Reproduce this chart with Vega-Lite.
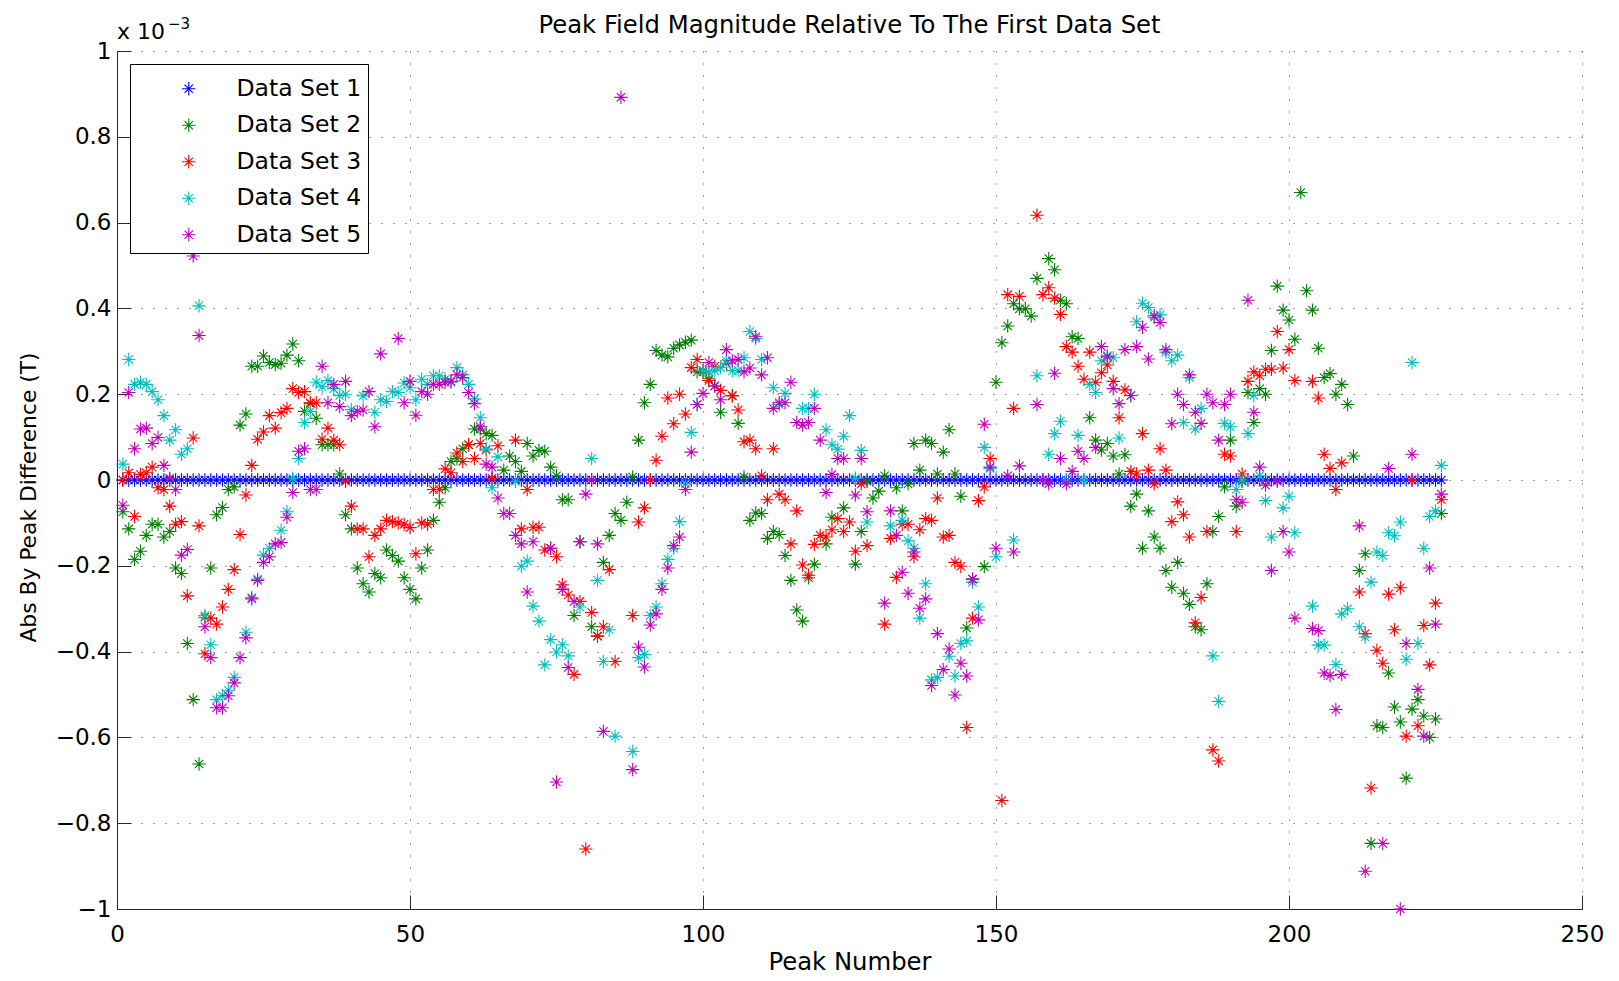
{
  "$schema": "https://vega.github.io/schema/vega-lite/v6.json",
  "width": 1465,
  "height": 858,
  "autosize": {"type": "none"},
  "padding": {"left": 117, "top": 51, "right": 37, "bottom": 72},
  "background": "white",
  "config": {
    "font": "DejaVu Sans",
    "view": {"stroke": null},
    "axis": {
      "grid": true,
      "gridDash": [1, 11],
      "gridColor": "#444444",
      "gridWidth": 1,
      "domainColor": "#262626",
      "domainWidth": 1,
      "tickColor": "#262626",
      "tickSize": -14,
      "tickWidth": 1,
      "labelFont": "DejaVu Sans",
      "labelFontSize": 23,
      "labelColor": "black",
      "titleFont": "DejaVu Sans",
      "titleFontSize": 23.5,
      "titleFontWeight": "normal",
      "titleColor": "black",
      "labelFlush": false,
      "labelOverlap": false
    },
    "legend": {
      "fillColor": "white",
      "strokeColor": "black"
    }
  },
  "title": {
    "text": "Peak Field Magnitude Relative To The First Data Set",
    "font": "DejaVu Sans",
    "fontSize": 24.3,
    "fontWeight": "normal",
    "color": "black",
    "anchor": "middle",
    "frame": "group",
    "baseline": "alphabetic",
    "offset": -5,
    "dy": 35
  },
  "layer": [
    {
      "data": {"values": [
        {"n":1,"a":0,"b":-0.074,"c":0,"d":0.037,"e":-0.059},
        {"n":2,"a":0,"b":-0.114,"c":0.017,"d":0.281,"e":0.204},
        {"n":3,"a":0,"b":-0.185,"c":-0.085,"d":0.223,"e":0.073},
        {"n":4,"a":0,"b":-0.166,"c":0.013,"d":0.228,"e":0.119},
        {"n":5,"a":0,"b":-0.129,"c":0.017,"d":0.223,"e":0.121},
        {"n":6,"a":0,"b":-0.103,"c":0.03,"d":0.206,"e":0.085},
        {"n":7,"a":0,"b":-0.103,"c":-0.018,"d":0.187,"e":0.099},
        {"n":8,"a":0,"b":-0.133,"c":-0.022,"d":0.15,"e":0.034},
        {"n":9,"a":0,"b":-0.12,"c":-0.061,"d":0.093,"e":0.004},
        {"n":10,"a":0,"b":-0.205,"c":-0.103,"d":0.117,"e":-0.022},
        {"n":11,"a":0,"b":-0.218,"c":-0.097,"d":0.06,"e":-0.175},
        {"n":12,"a":0,"b":-0.381,"c":-0.27,"d":0.073,"e":-0.162},
        {"n":13,"a":0,"b":-0.512,"c":0.098,"e":0.522},
        {"n":14,"a":0,"b":-0.662,"c":-0.107,"d":0.406,"e":0.337},
        {"n":15,"a":0,"b":-0.32,"c":-0.405,"d":-0.316,"e":-0.342},
        {"n":16,"a":0,"b":-0.205,"c":-0.322,"d":-0.384,"e":-0.414},
        {"n":17,"a":0,"b":-0.081,"c":-0.336,"d":-0.512,"e":-0.531},
        {"n":18,"a":0,"b":-0.064,"c":-0.296,"d":-0.503,"e":-0.531},
        {"n":19,"a":0,"b":-0.022,"c":-0.255,"d":-0.49,"e":-0.503},
        {"n":20,"a":0,"b":-0.016,"c":-0.209,"d":-0.46,"e":-0.473},
        {"n":21,"a":0,"b":0.128,"c":-0.127,"e":-0.414},
        {"n":22,"a":0,"b":0.154,"c":-0.035,"d":-0.355,"e":-0.368},
        {"n":23,"a":0,"b":0.265,"c":0.034,"d":-0.274,"e":-0.277},
        {"n":24,"a":0,"b":0.265,"c":0.095,"d":-0.231,"e":-0.234},
        {"n":25,"a":0,"b":0.289,"c":0.112,"d":-0.175,"e":-0.192},
        {"n":26,"a":0,"b":0.274,"c":0.15,"d":-0.159,"e":-0.179},
        {"n":27,"a":0,"b":0.269,"c":0.121,"e":-0.149},
        {"n":28,"a":0,"b":0.272,"c":0.157,"d":-0.117,"e":-0.146},
        {"n":29,"a":0,"b":0.291,"c":0.167,"d":-0.074,"e":-0.087},
        {"n":30,"a":0,"b":0.317,"c":0.213,"d":0.004,"e":-0.029},
        {"n":31,"a":0,"b":0.278,"c":0.204,"d":0.05,"e":0.067},
        {"n":32,"a":0,"b":0.16,"c":0.206,"d":0.134,"e":0.073},
        {"n":33,"a":0,"b":0.178,"c":0.18,"d":0.16,"e":-0.022},
        {"n":34,"a":0,"b":0.144,"c":0.18,"d":0.228,"e":-0.022},
        {"n":35,"a":0,"b":0.082,"c":0.095,"d":0.217,"e":0.265},
        {"n":36,"a":0,"b":0.082,"c":0.121,"d":0.232,"e":0.18},
        {"n":37,"a":0,"b":0.082,"c":0.093,"d":0.213,"e":0.223},
        {"n":38,"a":0,"b":0.014,"c":0.082,"d":0.197,"e":0.171},
        {"n":39,"a":0,"b":-0.081,"c":-0.003,"d":0.2,"e":0.23},
        {"n":40,"a":0,"b":-0.114,"c":-0.061,"d":0.164,"e":0.15},
        {"n":41,"a":0,"b":-0.205,"c":-0.114,"e":0.16},
        {"n":42,"a":0,"b":-0.242,"c":-0.114,"d":0.196,"e":0.163},
        {"n":43,"a":0,"b":-0.261,"c":-0.179,"e":0.206},
        {"n":44,"a":0,"b":-0.218,"c":-0.129,"d":0.158,"e":0.124},
        {"n":45,"a":0,"b":-0.228,"c":-0.114,"d":0.187,"e":0.294},
        {"n":46,"a":0,"b":-0.163,"c":-0.094,"d":0.183},
        {"n":47,"a":0,"b":-0.176,"c":-0.097,"d":0.206},
        {"n":48,"a":0,"b":-0.189,"c":-0.1,"d":0.204,"e":0.33},
        {"n":49,"a":0,"b":-0.228,"c":-0.103,"d":0.226,"e":0.18},
        {"n":50,"a":0,"b":-0.255,"c":-0.111,"d":0.215,"e":0.23},
        {"n":51,"a":0,"b":-0.277,"c":-0.172,"d":0.187,"e":0.151},
        {"n":52,"a":0,"b":-0.205,"c":-0.1,"d":0.235,"e":0.206},
        {"n":53,"a":0,"b":-0.163,"c":-0.103,"d":0.223,"e":0.2},
        {"n":54,"a":0,"b":-0.094,"c":-0.022,"d":0.243,"e":0.223},
        {"n":55,"a":0,"b":-0.052,"c":-0.022,"d":0.243,"e":0.223},
        {"n":56,"a":0,"b":-0.018,"c":0.026,"d":0.235,"e":0.228},
        {"n":57,"a":0,"b":0.043,"c":0.017,"d":0.228,"e":0.23},
        {"n":58,"a":0,"b":0.05,"c":0.063,"d":0.262,"e":0.245},
        {"n":59,"a":0,"b":0.073,"c":0.043,"d":0.245,"e":0.239},
        {"n":60,"a":0,"b":0.082,"c":0.082,"d":0.223,"e":0.204},
        {"n":61,"a":0,"b":0.119,"c":0.05,"d":0.189,"e":0.178},
        {"n":62,"a":0,"b":0.119,"c":0.085,"d":0.145,"e":0.124},
        {"n":63,"a":0,"b":0.108,"c":0.07,"d":0.073,"e":0.037},
        {"n":64,"a":0,"b":0.104,"c":0.004,"d":-0.018,"e":0.03},
        {"n":65,"a":0,"c":0.08,"d":0.054,"e":-0.042},
        {"n":66,"a":0,"b":0.023,"e":-0.078},
        {"n":67,"a":0,"b":0.056,"e":-0.078},
        {"n":68,"a":0,"b":0.043,"c":0.093,"d":-0.003,"e":-0.129},
        {"n":69,"a":0,"b":0.02,"c":-0.114,"d":-0.201,"e":-0.149},
        {"n":70,"a":0,"b":0.085,"c":-0.022,"d":-0.189,"e":-0.261},
        {"n":71,"a":0,"b":0.056,"c":-0.11,"d":-0.294,"e":-0.144},
        {"n":72,"a":0,"b":0.069,"c":-0.11,"d":-0.329},
        {"n":73,"a":0,"b":0.067,"c":-0.163,"d":-0.431},
        {"n":74,"a":0,"b":0.03,"c":-0.159,"d":-0.372,"e":-0.159},
        {"n":75,"a":0,"b":0.01,"c":-0.179,"d":-0.401,"e":-0.704},
        {"n":76,"a":0,"b":-0.046,"c":-0.244,"d":-0.384,"e":-0.255},
        {"n":77,"a":0,"b":-0.046,"c":-0.268,"d":-0.41,"e":-0.437},
        {"n":78,"a":0,"b":-0.316,"c":-0.453,"e":-0.283},
        {"n":79,"a":0,"b":-0.144,"c":-0.283,"d":-0.296,"e":-0.144},
        {"n":80,"a":0,"c":-0.86,"e":-0.033},
        {"n":81,"a":0,"b":-0.342,"c":-0.309,"d":0.05,"e":0.0},
        {"n":82,"a":0,"b":-0.364,"c":-0.364,"d":-0.234,"e":-0.149},
        {"n":83,"a":0,"b":-0.192,"c":-0.342,"d":-0.423,"e":-0.586},
        {"n":84,"a":0,"b":-0.129,"c":-0.209,"d":-0.349},
        {"n":85,"a":0,"b":-0.078,"c":-0.423,"d":-0.597},
        {"n":86,"a":0,"b":-0.094,"e":0.892},
        {"n":87,"a":0,"b":-0.052},
        {"n":88,"a":0,"b":0.007,"c":-0.316,"d":-0.633,"e":-0.675},
        {"n":89,"a":0,"b":0.093,"c":-0.098,"d":-0.414,"e":-0.39},
        {"n":90,"a":0,"b":0.18,"c":-0.065,"d":-0.407,"e":-0.436},
        {"n":91,"a":0,"b":0.223,"c":0.0,"d":-0.316,"e":-0.338},
        {"n":92,"a":0,"b":0.302,"c":0.046,"d":-0.296,"e":-0.312},
        {"n":93,"a":0,"b":0.291,"c":0.102,"d":-0.242,"e":-0.255},
        {"n":94,"a":0,"b":0.287,"c":0.191,"d":-0.185,"e":-0.205},
        {"n":95,"a":0,"b":0.307,"c":0.131,"d":-0.159,"e":-0.153},
        {"n":96,"a":0,"b":0.315,"c":0.2,"d":-0.097,"e":-0.133},
        {"n":97,"a":0,"b":0.321,"c":0.154,"d":-0.009,"e":-0.022},
        {"n":98,"a":0,"b":0.326,"c":0.262,"d":0.111,"e":0.065},
        {"n":99,"a":0,"b":0.252,"c":0.281,"d":0.176,"e":0.176},
        {"n":100,"a":0,"b":0.252,"c":0.255,"d":0.255,"e":0.202},
        {"n":101,"a":0,"b":0.236,"c":0.232,"d":0.252,"e":0.274},
        {"n":102,"a":0,"b":0.219,"c":0.265,"d":0.255,"e":0.219},
        {"n":103,"a":0,"b":0.158,"c":0.209,"d":0.262,"e":0.187},
        {"n":104,"a":0,"c":0.272,"d":0.278,"e":0.304},
        {"n":105,"a":0,"b":0.197,"c":0.196,"d":0.255,"e":0.278},
        {"n":106,"a":0,"b":0.132,"c":0.163,"d":0.255,"e":0.281},
        {"n":107,"a":0,"b":0.007,"c":0.089,"d":0.285,"e":0.252},
        {"n":108,"a":0,"b":-0.094,"c":0.093,"d":0.346,"e":0.261},
        {"n":109,"a":0,"b":-0.077,"c":0.073,"d":0.33,"e":0.334},
        {"n":110,"a":0,"b":-0.078,"c":0.01,"d":0.281,"e":0.245},
        {"n":111,"a":0,"b":-0.136,"c":-0.046,"e":0.285},
        {"n":112,"a":0,"b":-0.12,"c":0.073,"d":0.215,"e":0.167},
        {"n":113,"a":0,"b":-0.127,"c":-0.033,"d":0.176,"e":0.18},
        {"n":114,"a":0,"b":-0.176,"c":-0.046,"d":0.202,"e":0.18},
        {"n":115,"a":0,"b":-0.234,"c":-0.149,"e":0.228},
        {"n":116,"a":0,"b":-0.303,"c":-0.072,"e":0.134},
        {"n":117,"a":0,"b":-0.329,"c":-0.198,"d":0.167,"e":0.128},
        {"n":118,"a":0,"b":-0.228,"c":-0.222,"d":0.167,"e":0.134},
        {"n":119,"a":0,"b":-0.196,"c":-0.15,"d":0.2,"e":0.167},
        {"n":120,"a":0,"c":-0.129,"e":0.093},
        {"n":121,"a":0,"b":-0.149,"c":-0.133,"d":0.117,"e":-0.029},
        {"n":122,"a":0,"b":-0.087,"c":-0.116,"d":0.082,"e":0.013},
        {"n":123,"a":0,"c":-0.09,"d":0.072,"e":0.05},
        {"n":124,"a":0,"b":-0.065,"c":-0.12,"d":0.102,"e":0.05},
        {"n":125,"a":0,"c":-0.098,"d":0.15},
        {"n":126,"a":0,"b":-0.196,"c":-0.166,"d":0.004,"e":-0.035},
        {"n":127,"a":0,"b":-0.12,"c":-0.009,"d":0.069,"e":0.05},
        {"n":128,"a":0,"b":-0.003,"c":-0.153,"d":-0.098,"e":-0.074},
        {"n":129,"a":0,"b":-0.042},
        {"n":130,"a":0,"b":-0.026},
        {"n":131,"a":0,"b":0.01,"c":-0.336,"e":-0.287},
        {"n":132,"a":0,"c":-0.136,"d":-0.107,"e":-0.072},
        {"n":133,"a":0,"b":-0.018,"c":-0.227,"e":-0.129},
        {"n":134,"a":0,"b":-0.072,"c":-0.103,"d":-0.094,"e":-0.215},
        {"n":135,"a":0,"b":-0.009,"c":-0.103,"d":-0.142,"e":-0.264},
        {"n":136,"a":0,"b":0.085,"c":-0.179,"d":-0.159,"e":-0.168},
        {"n":137,"a":0,"b":0.023,"c":-0.116,"d":-0.322,"e":-0.299},
        {"n":138,"a":0,"b":0.093,"c":-0.09,"d":-0.242,"e":-0.277},
        {"n":139,"a":0,"b":0.085,"c":-0.094,"d":-0.466,"e":-0.479},
        {"n":140,"a":0,"b":0.014,"c":-0.042,"d":-0.46,"e":-0.358},
        {"n":141,"a":0,"b":0.065,"c":-0.133,"e":-0.442},
        {"n":142,"a":0,"b":0.117,"c":-0.129,"d":-0.411,"e":-0.394},
        {"n":143,"a":0,"b":0.014,"c":-0.192,"d":-0.457,"e":-0.501},
        {"n":144,"a":0,"b":-0.038,"c":-0.201,"d":-0.381,"e":-0.427},
        {"n":145,"a":0,"b":-0.345,"c":-0.577,"d":-0.375,"e":-0.457},
        {"n":146,"a":0,"b":-0.231,"c":-0.322,"d":-0.238,"e":-0.231},
        {"n":147,"a":0,"c":-0.048,"d":-0.296,"e":-0.326},
        {"n":148,"a":0,"b":-0.202,"c":-0.016,"d":0.076,"e":0.13},
        {"n":149,"a":0,"c":0.05,"d":0.027,"e":0.03},
        {"n":150,"a":0,"b":0.228,"d":-0.179,"e":-0.159},
        {"n":151,"a":0,"b":0.32,"c":-0.747},
        {"n":152,"a":0,"b":0.359,"c":0.432,"e":0.01},
        {"n":153,"a":0,"b":0.411,"c":0.167,"d":-0.14,"e":-0.168},
        {"n":154,"a":0,"b":0.399,"c":0.428,"e":0.033},
        {"n":155,"a":0,"b":0.399},
        {"n":156,"a":0,"b":0.382},
        {"n":157,"a":0,"b":0.47,"c":0.617,"d":0.243,"e":0.176},
        {"n":158,"a":0,"c":0.432,"e":0.0},
        {"n":159,"a":0,"b":0.516,"c":0.448,"d":0.06,"e":-0.009},
        {"n":160,"a":0,"b":0.49,"c":0.424,"d":0.108,"e":0.249},
        {"n":161,"a":0,"b":0.419,"c":0.386,"d":0.137,"e":0.05},
        {"n":162,"a":0,"b":0.411,"c":0.311,"d":0.0,"e":-0.009},
        {"n":163,"a":0,"b":0.334,"c":0.298,"e":0.02},
        {"n":164,"a":0,"b":0.33,"c":0.265,"d":0.104,"e":0.067},
        {"n":165,"a":0,"c":0.235,"d":0.0,"e":0.05},
        {"n":166,"a":0,"b":0.145,"c":0.298,"d":0.223},
        {"n":167,"a":0,"b":0.093,"c":0.228,"d":0.204,"e":0.076},
        {"n":168,"a":0,"b":0.07,"c":0.25,"d":0.278,"e":0.311},
        {"n":169,"a":0,"b":0.085,"c":0.268,"d":0.29,"e":0.287},
        {"n":170,"a":0,"b":0.056,"c":0.23,"d":0.285,"e":0.213},
        {"n":171,"a":0,"b":0.014,"c":0.145,"d":0.098,"e":0.178},
        {"n":172,"a":0,"b":0.059,"c":0.21,"e":0.304},
        {"n":173,"a":0,"b":-0.061,"c":0.02,"d":0.197,"e":0.197},
        {"n":174,"a":0,"b":-0.033,"c":0.014,"d":0.369,"e":0.311},
        {"n":175,"a":0,"b":-0.159,"c":0.108,"d":0.412,"e":0.356},
        {"n":176,"a":0,"b":-0.072,"c":0.023,"d":0.402,"e":0.282},
        {"n":177,"a":0,"b":-0.133,"c":-0.009,"d":0.379,"e":0.383},
        {"n":178,"a":0,"b":-0.159,"c":0.073,"d":0.385,"e":0.367},
        {"n":179,"a":0,"b":-0.211,"c":0.023,"d":0.298,"e":0.304},
        {"n":180,"a":0,"b":-0.25,"c":-0.097,"d":0.278,"e":0.131},
        {"n":181,"a":0,"b":-0.192,"c":-0.051,"d":0.291,"e":0.2},
        {"n":182,"a":0,"b":-0.264,"c":-0.081,"d":0.134,"e":0.176},
        {"n":183,"a":0,"b":-0.29,"c":-0.133,"d":0.239,"e":0.245},
        {"n":184,"a":0,"b":-0.342,"c":-0.333,"d":0.119,"e":0.158},
        {"n":185,"a":0,"b":-0.349,"c":-0.274,"d":0.167,"e":0.132},
        {"n":186,"a":0,"b":-0.242,"c":-0.12,"e":0.2},
        {"n":187,"a":0,"b":-0.12,"c":-0.629,"d":-0.41,"e":0.18},
        {"n":188,"a":0,"b":-0.085,"c":-0.655,"d":-0.516,"e":0.093},
        {"n":189,"a":0,"b":-0.016,"c":0.06,"d":0.132,"e":0.176},
        {"n":190,"a":0,"b":0.093,"c":0.056,"d":0.124,"e":0.2},
        {"n":191,"a":0,"b":-0.061,"c":-0.12,"d":-0.022,"e":-0.046},
        {"n":192,"a":0,"b":-0.003,"c":0.014,"d":0.0,"e":-0.052},
        {"n":193,"a":0,"b":0.204,"c":0.23,"d":0.108,"e":0.419},
        {"n":194,"a":0,"b":0.134,"c":0.252,"d":0.197,"e":0.158},
        {"n":195,"a":0,"b":0.213,"c":0.243,"d":0.01,"e":0.03},
        {"n":196,"a":0,"b":0.2,"c":0.258,"d":-0.048,"e":-0.012},
        {"n":197,"a":0,"b":0.302,"c":0.258,"d":-0.133,"e":-0.211},
        {"n":198,"a":0,"b":0.452,"c":0.346,"e":-0.003},
        {"n":199,"a":0,"b":0.396,"c":0.261,"d":-0.065,"e":-0.12},
        {"n":200,"a":0,"b":0.373,"c":0.304,"d":-0.038,"e":-0.168},
        {"n":201,"a":0,"b":0.328,"c":0.232,"d":-0.123,"e":-0.322},
        {"n":202,"a":0,"b":0.67},
        {"n":203,"a":0,"b":0.441},
        {"n":204,"a":0,"b":0.396,"c":0.23,"d":-0.294,"e":-0.346},
        {"n":205,"a":0,"b":0.307,"c":0.191,"d":-0.385,"e":-0.351},
        {"n":206,"a":0,"b":0.239,"c":0.06,"d":-0.385,"e":-0.45},
        {"n":207,"a":0,"b":0.248,"c":0.027,"e":-0.456},
        {"n":208,"a":0,"b":0.2,"c":-0.022,"d":-0.43,"e":-0.535},
        {"n":209,"a":0,"b":0.223,"c":0.04,"d":-0.312,"e":-0.453},
        {"n":210,"a":0,"b":0.176,"d":-0.3},
        {"n":211,"a":0,"b":0.056},
        {"n":212,"a":0,"b":-0.211,"c":-0.261,"d":-0.342,"e":-0.107},
        {"n":213,"a":0,"b":-0.172,"c":-0.358,"d":-0.366,"e":-0.912},
        {"n":214,"a":0,"b":-0.847,"c":-0.718,"d":-0.238},
        {"n":215,"a":0,"b":-0.573,"c":-0.397,"d":-0.168},
        {"n":216,"a":0,"b":-0.577,"c":-0.427,"d":-0.176,"e":-0.847},
        {"n":217,"a":0,"b":-0.45,"c":-0.266,"d":-0.123,"e":0.027},
        {"n":218,"a":0,"b":-0.529,"c":-0.349,"d":-0.13},
        {"n":219,"a":0,"b":-0.564,"c":-0.251,"d":-0.098,"e":-1.0},
        {"n":220,"a":0,"b":-0.695,"c":-0.597,"d":-0.418,"e":-0.381},
        {"n":221,"a":0,"b":-0.534,"c":0.0,"d":0.274,"e":0.06},
        {"n":222,"a":0,"b":-0.512,"c":-0.573,"d":-0.381,"e":-0.488},
        {"n":223,"a":0,"b":-0.55,"c":-0.339,"d":-0.159,"e":-0.597},
        {"n":224,"a":0,"b":-0.6,"c":-0.431,"d":-0.085,"e":-0.205},
        {"n":225,"a":0,"b":-0.557,"c":-0.287,"d":-0.072,"e":-0.336},
        {"n":226,"a":0,"b":-0.078,"c":-0.046,"d":0.034,"e":-0.033}
      ]},
      "transform": [
        {"fold": ["a", "b", "c", "d", "e"], "as": ["k", "v"]},
        {"filter": {"field": "v", "valid": true}}
      ],
      "mark": {
        "type": "point",
        "shape": "M-1,0L1,0M0,-1L0,1M-0.62,-0.62L0.62,0.62M-0.62,0.62L0.62,-0.62",
        "filled": false,
        "size": 180,
        "strokeWidth": 1.1,
        "opacity": 1
      },
      "encoding": {
        "x": {
          "field": "n",
          "type": "quantitative",
          "scale": {"domain": [0, 250], "nice": false, "zero": false},
          "axis": {
            "values": [0, 50, 100, 150, 200, 250],
            "title": "Peak Number",
            "titleFontSize": 24.3,
            "labelPadding": 28,
            "titlePadding": 4
          }
        },
        "y": {
          "field": "v",
          "type": "quantitative",
          "scale": {"domain": [-1, 1], "nice": false, "zero": false},
          "axis": {
            "values": [-1, -0.8, -0.6, -0.4, -0.2, 0, 0.2, 0.4, 0.6, 0.8, 1],
            "format": ".1~f",
            "title": "Abs By Peak Difference (T)",
            "titleFontSize": 21.8,
            "titleY": 446,
            "labelPadding": 20,
            "titlePadding": 15
          }
        },
        "color": {
          "field": "k",
          "type": "nominal",
          "scale": {
            "domain": ["a", "b", "c", "d", "e"],
            "range": ["#0000ff", "#008000", "#ff0000", "#00bfbf", "#bf00bf"]
          },
          "legend": {
            "title": " ",
            "titleFontSize": 5,
            "titlePadding": 2,
            "orient": "none",
            "legendX": 13,
            "legendY": 13,
            "padding": 6,
            "symbolType": "M-1,0L1,0M0,-1L0,1M-0.62,-0.62L0.62,0.62M-0.62,0.62L0.62,-0.62",
            "symbolSize": 180,
            "symbolStrokeWidth": 1.1,
            "symbolOffset": 41,
            "labelOffset": 36,
            "labelFont": "DejaVu Sans",
            "labelFontSize": 23.5,
            "labelColor": "black",
            "rowPadding": 11.5,
            "labelExpr": "datum.label == 'a' ? 'Data Set 1' : datum.label == 'b' ? 'Data Set 2' : datum.label == 'c' ? 'Data Set 3' : datum.label == 'd' ? 'Data Set 4' : 'Data Set 5'"
          }
        },
        "order": {"field": "k"}
      }
    },
    {
      "data": {"values": [{"t": "x 10", "n": 0, "v": 1}]},
      "mark": {"type": "text", "align": "left", "baseline": "alphabetic", "dy": -12, "fontSize": 22, "font": "DejaVu Sans", "color": "black"},
      "encoding": {
        "x": {"field": "n", "type": "quantitative"},
        "y": {"field": "v", "type": "quantitative"},
        "text": {"field": "t"}
      }
    },
    {
      "data": {"values": [{"t": "−3", "n": 0, "v": 1}]},
      "mark": {"type": "text", "align": "left", "baseline": "alphabetic", "dx": 51, "dy": -22, "fontSize": 15, "font": "DejaVu Sans", "color": "black"},
      "encoding": {
        "x": {"field": "n", "type": "quantitative"},
        "y": {"field": "v", "type": "quantitative"},
        "text": {"field": "t"}
      }
    }
  ]
}
